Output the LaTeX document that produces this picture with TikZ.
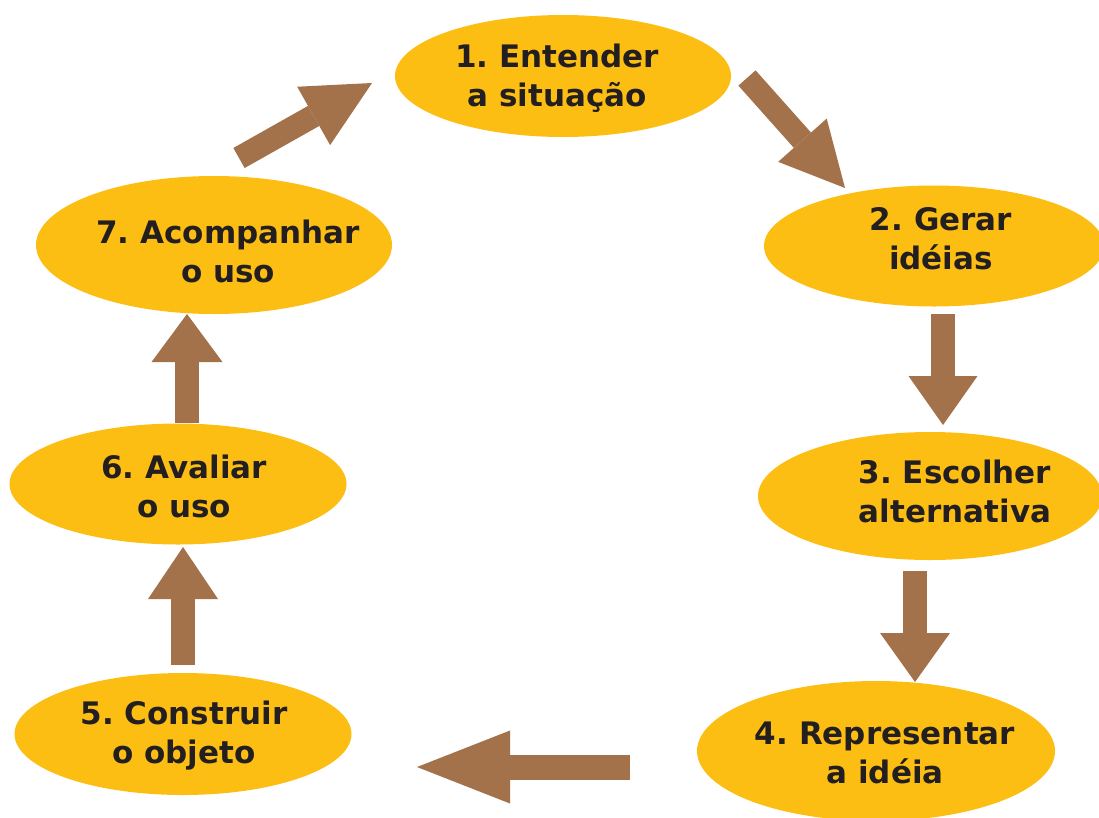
\documentclass[tikz,border=0pt]{standalone}
\usepackage{fontspec}
\setmainfont{DejaVu Sans}
\usetikzlibrary{shapes.geometric,arrows.meta}
\frenchspacing

\definecolor{amarelo}{RGB}{253,190,20}
\definecolor{marrom}{RGB}{163,113,74}
\definecolor{tinta}{RGB}{35,31,32}

\tikzset{
    etapa/.style={ellipse, fill=amarelo, inner sep=0pt},
    rotulo/.style={align=center, text=tinta, inner sep=0pt,
        font=\fontsize{31}{39}\selectfont\bfseries},
    seta/.style 2 args={draw=marrom, line width=24pt,
        -{Triangle[length=#1, width=#2, line width=0pt]}},
}

\begin{document}
\begin{tikzpicture}[x=1pt, y=-1pt]
                    \clip (0, 0) rectangle (1099, 817);

                    % 楕円
                    \node[etapa, minimum width=336, minimum height=122] (e1) at (563, 76) {};
                    \node[etapa, minimum width=340, minimum height=121] (e2) at (934, 246) {};
                    \node[etapa, minimum width=344, minimum height=128] (e3) at (930, 496) {};
                    \node[etapa, minimum width=358, minimum height=140] (e4) at (876, 751) {};
                    \node[etapa, minimum width=337, minimum height=122] (e5) at (183, 734) {};
                    \node[etapa, minimum width=337, minimum height=121] (e6) at (178, 484) {};
                    \node[etapa, minimum width=356, minimum height=138] (e7) at (214, 245) {};

                    % 文字
                    \node[rotulo] (t1) at (557, 78) {1. Entender\\a situação};
                    \node[rotulo] (t2) at (941, 239) {2. Gerar\\idéias};
                    \node[rotulo] (t3) at (955, 491) {3. Escolher\\alternativa};
                    \node[rotulo] (t4) at (885, 753) {4. Representar\\a idéia};
                    \node[rotulo] (t5) at (184, 736) {5. Construir\\o objeto};
                    \node[rotulo] (t6) at (184, 486) {6. Avaliar\\o uso};
                    \node[rotulo] (t7) at (228, 251) {7. Acompanhar\\o uso};

                    % 矢印の端
                    \coordinate (a12s) at (747, 78);   \coordinate (a12e) at (845, 188);
                    \coordinate (a23s) at (943, 314);  \coordinate (a23e) at (943, 425);
                    \coordinate (a34s) at (915, 571);  \coordinate (a34e) at (915, 682);
                    \coordinate (a45s) at (630, 767);  \coordinate (a45e) at (417, 767);
                    \coordinate (a56s) at (183, 665);  \coordinate (a56e) at (183, 547);
                    \coordinate (a67s) at (187, 423);  \coordinate (a67e) at (187, 314);
                    \coordinate (a71s) at (239, 158);  \coordinate (a71e) at (372, 83);

                    % 矢印
                    \draw[seta={64pt}{65pt}, line width=23pt] (a12s)--(a12e);
                    \draw[seta={49pt}{69pt}] (a23s)--(a23e);
                    \draw[seta={49pt}{70pt}] (a34s)--(a34e);
                    \draw[seta={93pt}{73pt}, line width=25pt] (a45s)--(a45e);
                    \draw[seta={52pt}{70pt}] (a56s)--(a56e);
                    \draw[seta={48pt}{71pt}] (a67s)--(a67e);
                    \draw[seta={67pt}{67pt}, line width=23pt] (a71s)--(a71e);

\end{tikzpicture}
\end{document}
